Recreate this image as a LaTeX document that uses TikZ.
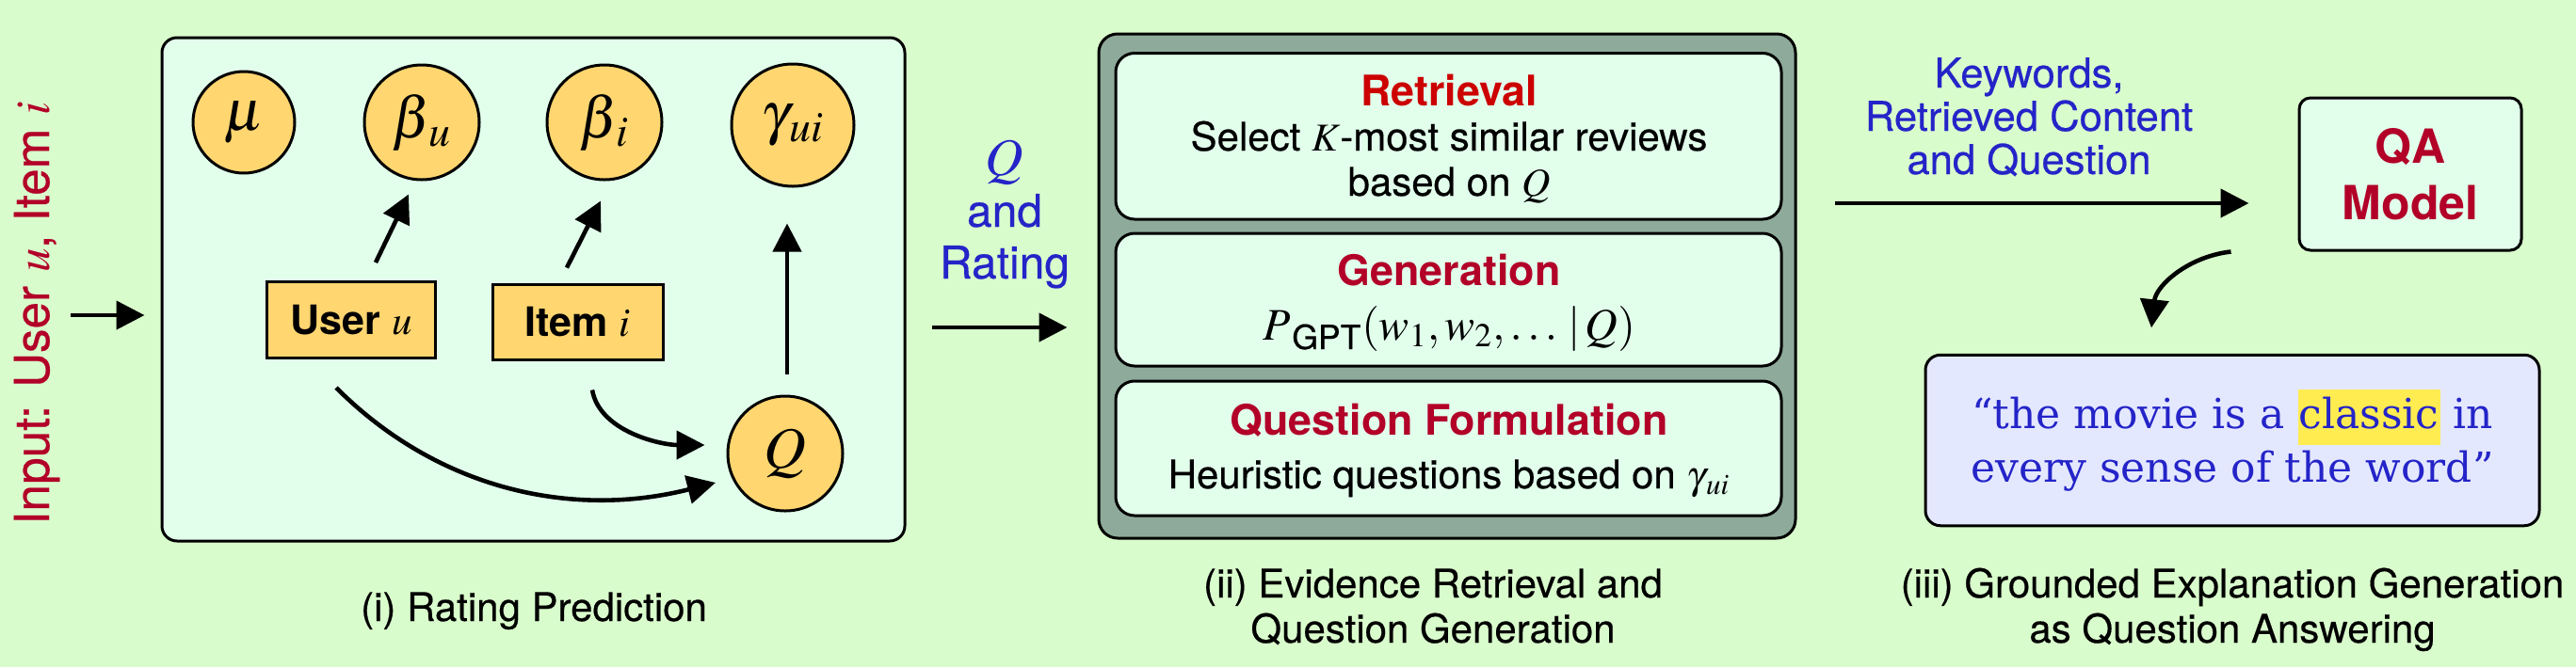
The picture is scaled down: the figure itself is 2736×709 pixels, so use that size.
\documentclass[tikz,border=0pt]{standalone}
\usepackage{amsmath}
\usepackage{mathptmx}
\usepackage[no-math]{fontspec}
\setmainfont{TeX Gyre Heros}[UprightFeatures={FakeBold=0.4}]
\newfontfamily\quotefont{DejaVu Serif}
\usetikzlibrary{arrows.meta,calc}
\definecolor{bgc}{RGB}{217,252,204}
\definecolor{mint}{RGB}{226,255,236}
\definecolor{greyc}{RGB}{142,170,154}
\definecolor{orng}{RGB}{255,214,112}
\definecolor{redA}{RGB}{204,0,0}
\definecolor{crim}{RGB}{178,0,40}
\definecolor{blu}{RGB}{36,36,200}
\definecolor{lav}{RGB}{228,232,255}
\definecolor{hlc}{RGB}{255,236,80}
\setlength{\fboxsep}{0.5pt}
\begin{document}
\begin{tikzpicture}[x=0.5pt,y=-0.5pt,
  border/.style={draw=black, line width=1.5pt},
  circ/.style={circle, border, fill=orng, inner sep=0pt, font=\fontsize{31}{32}\selectfont},
  var/.style={rectangle, border, fill=orng, inner sep=0pt, font=\bfseries\fontsize{21.5}{24}\selectfont},
  arr/.style={line width=2.3pt, -{Triangle[length=15pt,width=15pt]}},
  body/.style={font=\fontsize{21}{24}\selectfont, anchor=base, inner sep=0pt},
  ttlA/.style={font=\bfseries\fontsize{22.4}{26}\selectfont, anchor=base, inner sep=0pt},
  bluel/.style={text=blu, font=\fontsize{21.8}{24}\selectfont, anchor=base, inner sep=0pt},
]
\useasboundingbox (0,0) rectangle (2736,709);
\fill[bgc] (0,0) rectangle (2736,709);

% ---------- input ----------
\node[rotate=90, text=crim, font=\fontsize{25.6}{28}\selectfont, inner sep=0pt] (inlbl) at (39,333) {Input: User $u$, Item $i$};

% ---------- (i) rating prediction ----------
\node[border, fill=mint, rounded corners=8pt, minimum width=394.5pt, minimum height=267.5pt, inner sep=0pt] (rpbox) at (566.5,307.5) {};
\node[circ, minimum size=54pt] (mu) at (259,130) {$\mu$};
\node[circ, minimum size=61pt] (bu) at (448,130) {$\beta_{\mkern2mu u}$};
\node[circ, minimum size=61pt] (bi) at (642,130) {$\beta_{\mkern2mu i}$};
\node[circ, minimum size=65pt] (gam) at (842,133) {$\gamma_{\mkern2mu ui}$};
\node[circ, minimum size=61pt] (Q) at (834,482) {$Q$};
\node[var, minimum width=89.5pt, minimum height=40.5pt] (user) at (373,340) {User $u$};
\node[var, minimum width=90.5pt, minimum height=40pt] (item) at (613.5,342) {Item $i$};

\coordinate (inS) at (75,335);
\draw[arr] (inS) -- ($(rpbox.west |- inS)+(-17,0)$);

\draw[arr] ([shift={(26,-19)}]user.north) -- ([shift={(-14,14)}]bu.south);
\draw[arr] ([shift={(-11.5,-16)}]item.north) -- ([shift={(-4,21)}]bi.south);
\draw[arr] ([shift={(2,-22)}]Q.north) -- ([shift={(-6,38)}]gam.south);
\draw[arr] ([shift={(-16,30)}]user.south) .. controls +(110,110) and +(-150,38) .. ([shift={(-74,31)}]Q.center);
\draw[arr] ([shift={(15.5,31)}]item.south) .. controls +(8,45) and +(-45,0) .. ([shift={(-23,-9)}]Q.west);

\node[body] (c1) at (567,660) {(i) Rating Prediction};

% ---------- Q and Rating ----------
\node[bluel, font=\fontsize{28}{30}\selectfont] (ql1) at (1067,186) {$Q$};
\node[bluel, font=\fontsize{24}{26}\selectfont] (ql2) at (1067,241) {and};
\node[bluel, font=\fontsize{24}{26}\selectfont] (ql3) at (1067,296) {Rating};

% ---------- (ii) evidence retrieval ----------
\node[border, fill=greyc, rounded corners=10pt, minimum width=370pt, minimum height=268pt, inner sep=0pt] (evbox) at (1537,304) {};
\node[border, fill=mint, rounded corners=10pt, minimum width=353.5pt, minimum height=88.25pt, inner sep=0pt] (r1) at (1538.5,144.75) {};
\node[border, fill=mint, rounded corners=10pt, minimum width=353.5pt, minimum height=70.5pt, inner sep=0pt] (r2) at (1538.5,318.5) {};
\node[border, fill=mint, rounded corners=10pt, minimum width=353.5pt, minimum height=71.5pt, inner sep=0pt] (r3) at (1538.5,476.5) {};

\node[ttlA, text=redA] (t1) at (1539,112) {Retrieval};
\node[body] (d1a) at (1539,160) {Select $K$-most similar reviews};
\node[body] (d1b) at (1539,208) {based on $Q$};
\node[ttlA, text=crim] (t2) at (1539,303) {Generation};
\node[body, font=\fontsize{24}{26}\selectfont] (d2) at (1539,361) {$P_{\mkern4mu\text{GPT}}(w_1, w_2, \ldots\,|\,Q)$};
\node[ttlA, text=crim] (t3) at (1539,462) {Question Formulation};
\node[body] (d3) at (1539,519) {Heuristic questions based on $\gamma_{\mkern2mu ui}$};

\coordinate (a2s) at (990,348);
\draw[arr] (a2s) -- ($(evbox.west |- a2s)+(-32,0)$);

\node[body] (c2a) at (1522,635) {(ii) Evidence Retrieval and};
\node[body] (c2b) at (1522,683) {Question Generation};

% ---------- (iii) grounded explanation ----------
\node[bluel] (kw1) at (2155,93) {Keywords,};
\node[bluel] (kw2) at (2155,139) {Retrieved Content};
\node[bluel] (kw3) at (2155,185) {and Question};

\node[border, fill=mint, rounded corners=6pt, minimum width=118pt, minimum height=81pt, inner sep=0pt, align=center, text=crim, font=\bfseries\fontsize{25}{30}\selectfont] (qa) at (2560,185) {QA\\Model};

\node[border, fill=lav, rounded corners=8pt, minimum width=326pt, minimum height=90.75pt, inner sep=0pt, align=center, text=blu, font=\quotefont\fontsize{22}{28.5}\selectfont] (quote) at (2371,468) {“the movie is a \colorbox{hlc}{\strut classic} in\\every sense of the word”};

\coordinate (a3s) at (1949,216);
\draw[arr] (a3s) -- ($(qa.west |- a3s)+(-52,0)$);
\draw[arr] ([shift={(-71,0)}]qa.south west) .. controls +(-45,5) and +(5,-45) .. ([shift={(-86,-27.5)}]quote.north);

\node[body] (c3a) at (2371,635) {(iii) Grounded Explanation Generation};
\node[body] (c3b) at (2371,683) {as Question Answering};
\end{tikzpicture}
\end{document}
